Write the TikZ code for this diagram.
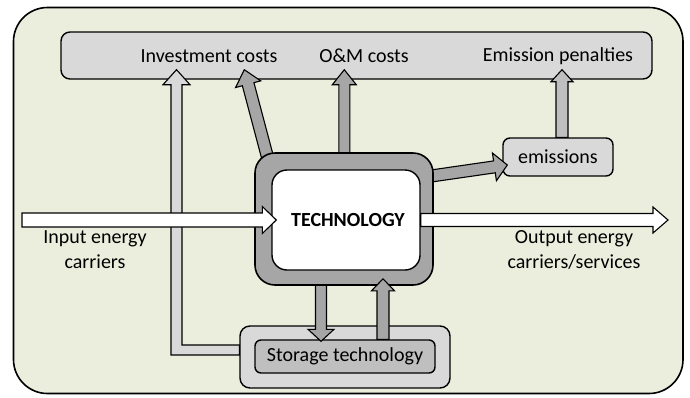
\documentclass[tikz,border=0pt]{standalone}
\usepackage{fontspec}
\setmainfont{Carlito}
\usetikzlibrary{calc}

\definecolor{panel}{HTML}{EBEEDD}
\definecolor{grayA}{HTML}{D9D9D9}
\definecolor{grayB}{HTML}{BFBFBF}
\definecolor{grayC}{HTML}{A6A6A6}

\tikzset{
  boxline/.style={draw=black, line width=1.4pt},
  blockline/.style={draw=black, line width=1.1pt, line join=miter},
  lbl/.style={inner sep=0pt, font=\fontsize{20}{25}\selectfont},
  card/.style={boxline, rounded corners=9pt, inner sep=0pt}
}

% Block arrow: #1 fill, #2 start, #3 tip, #4 shaft half width, #5 head half width, #6 head length
\newcommand{\blockarrow}[6]{%
  \coordinate (ba-s) at #2;
  \coordinate (ba-e) at #3;
  \coordinate (ba-c) at ($(ba-e)!#6!(ba-s)$);
  \draw[blockline, fill=#1]
    ($(ba-s)!#4!90:(ba-e)$) -- ($(ba-c)!#4!90:(ba-e)$) --
    ($(ba-c)!#5!90:(ba-e)$) -- (ba-e) --
    ($(ba-c)!#5!-90:(ba-e)$) -- ($(ba-c)!#4!-90:(ba-e)$) --
    ($(ba-s)!#4!-90:(ba-e)$) -- cycle;
}

\begin{document}
\begin{tikzpicture}[x=1pt, y=-1pt]
  \useasboundingbox (0,0) rectangle (690,397);

  % outer panel
  \draw[line width=1.6pt, fill=panel, rounded corners=34pt] (13.5,7.5) rectangle (683,393.5);

  % cost bar along the top
  \node[card, fill=grayA, minimum width=591pt, minimum height=47pt] (bar) at (356.5,55.5) {};
  \node[lbl] (inv) at (209,56) {Investment costs};
  \node[lbl] (om) at (364,56) {O\&M costs};
  \node[lbl] (pen) at (558,56) {Emission penalties};

  % emissions box
  \node[card, fill=grayA, minimum width=110pt, minimum height=38pt, rounded corners=7pt] (emis) at (558,157) {};
  \node[lbl] at (emis) {emissions};

  % storage technology
  \node[card, fill=grayA, minimum width=210pt, minimum height=62pt, rounded corners=10pt] (stout) at (345,357) {};
  \node[card, fill=grayB, minimum width=180pt, minimum height=33pt, rounded corners=6pt] (stin) at (345,356.5) {};
  \node[lbl] at (stin) {Storage technology};

  % flows leaving the technology
  \blockarrow{grayC}{($(bar.south west)+(210,88)$)}{($(bar.south west)+(184,-10)$)}{6pt}{13pt}{15pt}
  \blockarrow{grayC}{($(bar.south west)+(284,100)$)}{($(bar.south west)+(284,-10)$)}{5.5pt}{12pt}{15pt}
  \blockarrow{grayC}{($(emis.west)+(-78,20)$)}{($(emis.west)+(5,8)$)}{6pt}{14pt}{13pt}
  \blockarrow{grayC}{($(stin.north)+(-24,-70)$)}{($(stin.north)+(-24,2)$)}{5.5pt}{13pt}{12pt}

  % technology block
  \node[boxline, line width=1.6pt, fill=grayC, rounded corners=20pt, minimum width=178pt, minimum height=132pt] (tech) at (344,219) {};
  \node[boxline, fill=white, rounded corners=15pt, minimum width=148pt, minimum height=100pt] (tin) at (346,220) {};
  \node[lbl, font=\fontsize{20}{25}\selectfont\bfseries] at (348,220) {TECHNOLOGY};

  % emissions to penalties
  \blockarrow{grayB}{($(emis.north)+(4,0)$)}{($(emis.north |- bar.south)+(4,-10)$)}{6pt}{11pt}{12pt}

  % storage back to technology
  \blockarrow{grayC}{($(stin.north)+(38,0)$)}{($(tech.south)+(39,-7)$)}{6pt}{11.5pt}{12pt}

  % investment of the storage
  \coordinate (lcorner) at (176.5,350);
  \draw[blockline, fill=grayA]
    ($(stout.west |- lcorner)+(0,-5)$) -- ($(lcorner)+(5.5,-5)$) --
    ($(lcorner |- bar.south)+(5.5,5)$) -- ($(lcorner |- bar.south)+(13.5,5)$) --
    ($(lcorner |- bar.south)+(0,-10)$) --
    ($(lcorner |- bar.south)+(-13.5,5)$) -- ($(lcorner |- bar.south)+(-5.5,5)$) --
    ($(lcorner)+(-5.5,5)$) -- ($(stout.west |- lcorner)+(0,5)$) -- cycle;

  % energy in and out
  \coordinate (instart) at (22,220);
  \coordinate (outend) at (668,220);
  \blockarrow{white}{(instart)}{($(tin.west)+(5,0)$)}{7pt}{13.5pt}{14pt}
  \blockarrow{white}{(tin.east)}{(outend)}{6.5pt}{13pt}{15pt}

  \node[lbl, align=center] (inlbl) at (95,250) {Input energy\\carriers};
  \node[lbl, align=center] (outlbl) at (574,250) {Output energy\\carriers/services};
\end{tikzpicture}
\end{document}
